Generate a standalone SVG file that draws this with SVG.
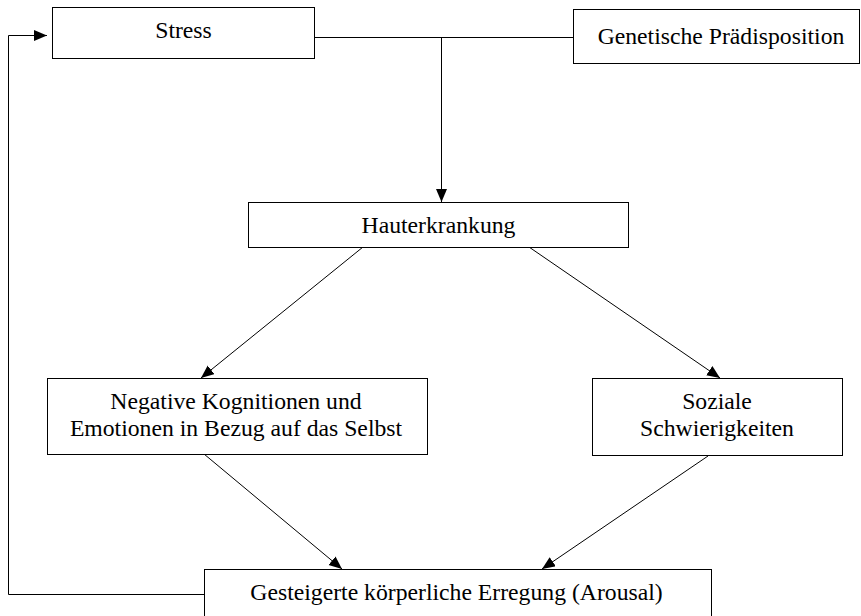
<svg xmlns="http://www.w3.org/2000/svg" width="861" height="616" viewBox="0 0 861 616">
<style>
.box{fill:#fff;stroke:#000;stroke-width:1}
.lbl{font-family:"Liberation Serif","Times New Roman",serif;font-size:23.7px;fill:#000;text-anchor:middle}
.con{fill:none;stroke:#000;stroke-width:1}
</style>
<defs>
<marker id="arr" markerUnits="userSpaceOnUse" markerWidth="14" markerHeight="12" refX="13" refY="5.5" orient="auto">
<path d="M0,0 L13,5.5 L0,11 z" fill="#000"/>
</marker>
</defs>
<rect width="861" height="616" fill="#fff"/>
<g id="connectors">
<line class="con" x1="315" y1="37.5" x2="573" y2="37.5"/>
<line class="con" x1="441.5" y1="37.5" x2="441.5" y2="202" marker-end="url(#arr)"/>
<line class="con" x1="363" y1="247" x2="201" y2="378" marker-end="url(#arr)"/>
<line class="con" x1="529" y1="247" x2="720" y2="378" marker-end="url(#arr)"/>
<line class="con" x1="204" y1="454" x2="342" y2="569" marker-end="url(#arr)"/>
<line class="con" x1="708" y1="456" x2="542" y2="569" marker-end="url(#arr)"/>
<polyline class="con" points="204,594.5 8.5,594.5 8.5,35.5 47,35.5" marker-end="url(#arr)"/>
</g>
<g id="stress">
<rect class="box" x="52.5" y="7.5" width="262" height="51"/>
<text class="lbl" x="183.5" y="38">Stress</text>
</g>
<g id="genetik">
<rect class="box" x="573.5" y="9.5" width="286" height="54"/>
<text class="lbl" x="721" y="44">Genetische Prädisposition</text>
</g>
<g id="hauterkrankung">
<rect class="box" x="248.5" y="202.5" width="380" height="45"/>
<text class="lbl" x="438.5" y="233">Hauterkrankung</text>
</g>
<g id="negative">
<rect class="box" x="47.5" y="378.5" width="380" height="76"/>
<text class="lbl" x="236" y="409">Negative Kognitionen und</text>
<text class="lbl" x="236" y="436">Emotionen in Bezug auf das Selbst</text>
</g>
<g id="soziale">
<rect class="box" x="592.5" y="378.5" width="250" height="77"/>
<text class="lbl" x="717" y="409">Soziale</text>
<text class="lbl" x="717" y="436">Schwierigkeiten</text>
</g>
<g id="arousal">
<rect class="box" x="204.5" y="569.5" width="507" height="60"/>
<text class="lbl" x="456.5" y="600">Gesteigerte körperliche Erregung (Arousal)</text>
</g>
</svg>
